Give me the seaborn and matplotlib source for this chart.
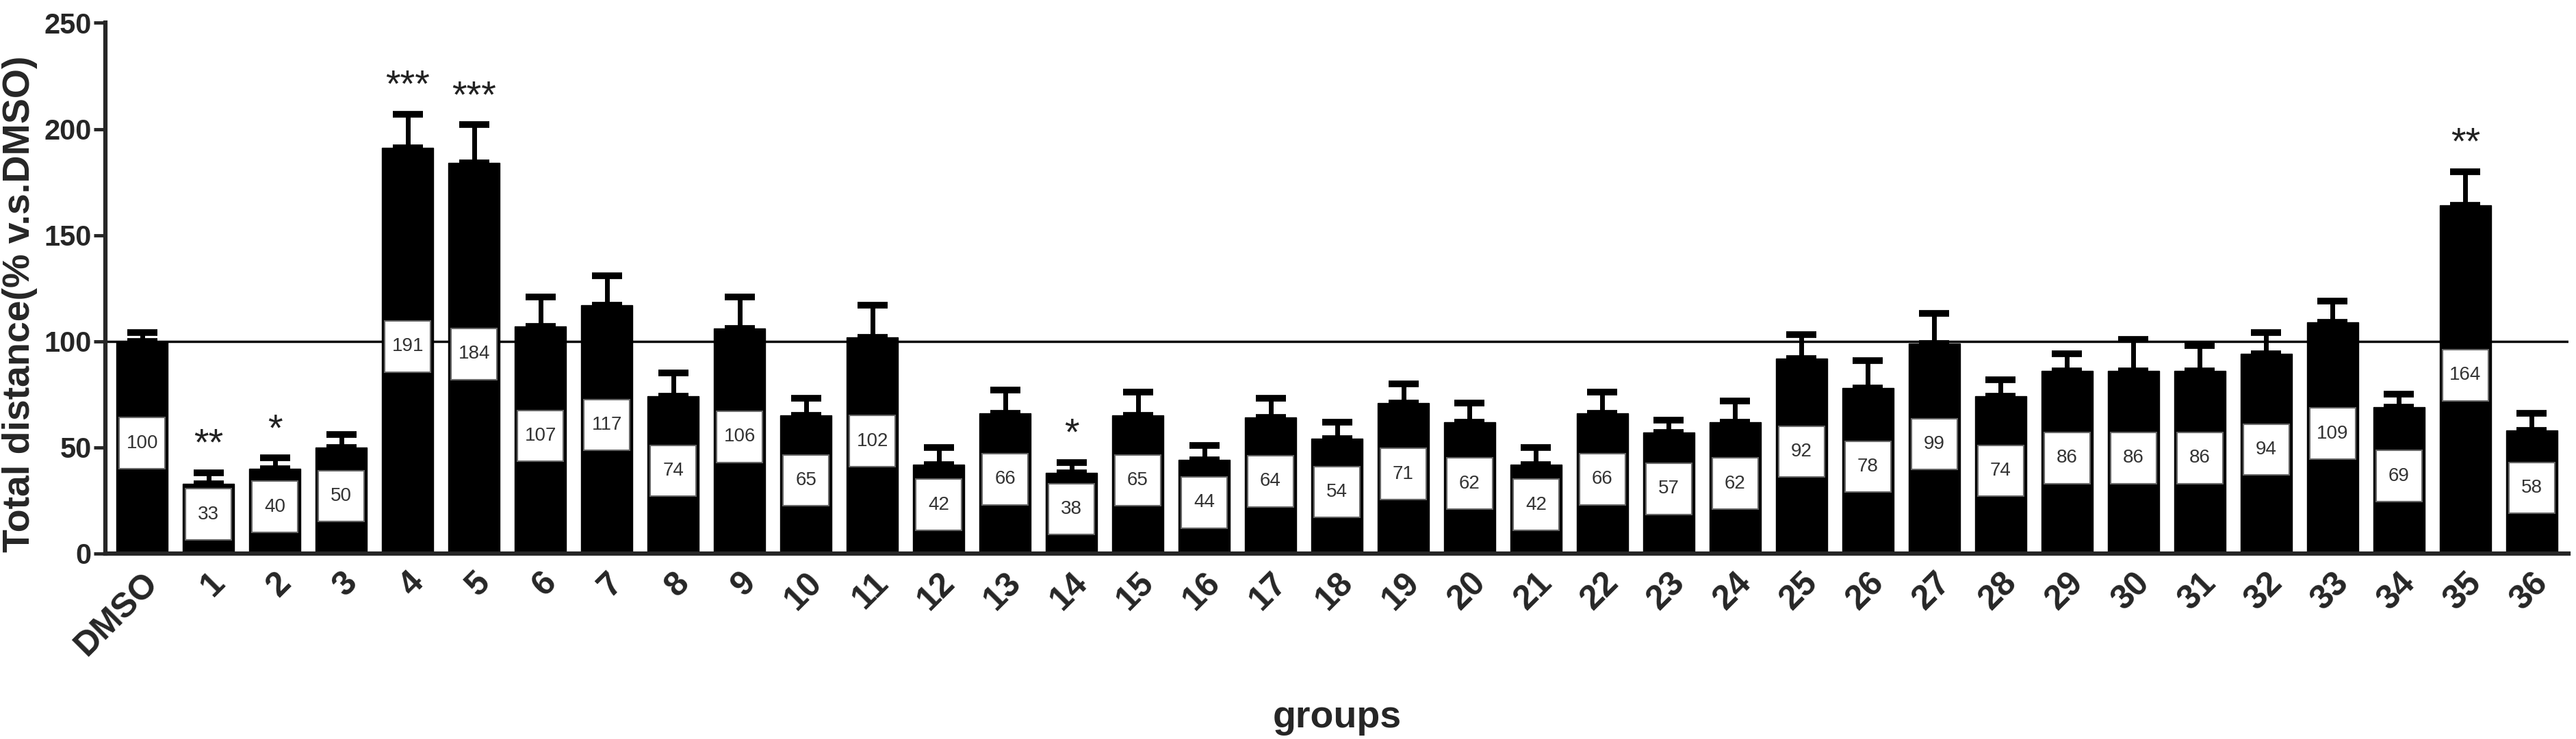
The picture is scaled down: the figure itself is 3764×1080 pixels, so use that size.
import numpy as np
import pandas as pd
import seaborn as sns
import matplotlib.pyplot as plt
from matplotlib.patches import Rectangle

groups = ["DMSO"] + [str(i) for i in range(1, 37)]
values = [100, 33, 40, 50, 191, 184, 107, 117, 74, 106, 65, 102, 42, 66, 38, 65, 44, 64, 54,
          71, 62, 42, 66, 57, 62, 92, 78, 99, 74, 86, 86, 86, 94, 109, 69, 164, 58]
errors = [4, 5, 5, 6, 16, 18, 14, 14, 11, 15, 8, 15, 8, 11, 5, 11, 7, 9, 8,
          9, 9, 8, 10, 6, 10, 11, 13, 14, 8, 8, 15, 12, 10, 10, 6, 16, 8]
stars = {"1": "**", "2": "*", "4": "***", "5": "***", "14": "*", "35": "**"}

df = pd.DataFrame({"group": groups, "distance": values, "sem": errors})

sns.set_style("ticks")
plt.rcParams["font.family"] = ["Liberation Sans", "DejaVu Sans"]

fig, ax = plt.subplots(figsize=(37.64, 10.8), dpi=100)
fig.subplots_adjust(left=0.041, right=0.997, bottom=0.251, top=0.969)

bar_w = 0.78
sns.barplot(data=df, x="group", y="distance", color="black", saturation=1,
            width=bar_w, errorbar=None, ax=ax)
for p in ax.patches:
    p.set_edgecolor("black")

xs = np.arange(len(df))
ax.errorbar(xs, df["distance"], yerr=[np.zeros(len(df)), df["sem"]], fmt="none",
            ecolor="black", elinewidth=5, capsize=16, capthick=7, zorder=1)

ax.axhline(100, color="black", lw=2.5, zorder=1.5)

# value boxes inside bars
box_w = bar_w * 0.88
box_h = 24
for x, v in zip(xs, df["distance"]):
    yc = v / 2 + 2
    ax.add_patch(Rectangle((x - box_w / 2, yc - box_h / 2), box_w, box_h,
                           facecolor="white", edgecolor="#666666", lw=1.5, zorder=3))
    ax.text(x, yc, str(v), ha="center", va="center", fontsize=20, color="#333333", zorder=4)

# significance marks
for x, g, v, e in zip(xs, df["group"], df["distance"], df["sem"]):
    if g in stars:
        ax.text(x, v + e + 13, stars[g], ha="center", va="center", fontsize=40, color="#222222")

ax.set_ylim(0, 250)
ax.set_xlim(-0.55, len(df) - 0.45)
ax.set_yticks([0, 50, 100, 150, 200, 250])
sns.despine(ax=ax)
for s in ["left", "bottom"]:
    ax.spines[s].set_linewidth(4.5)
ax.tick_params(axis="y", length=12, width=3.5, labelsize=30, pad=3)
ax.tick_params(axis="x", length=0, labelsize=36, pad=14)
for lab in ax.get_yticklabels() + ax.get_xticklabels():
    lab.set_fontweight("bold")
plt.setp(ax.get_xticklabels(), rotation=45, ha="right", rotation_mode="anchor")

ax.set_ylabel("Total distance(% v.s.DMSO)", fontsize=40, fontweight="bold")
ax.yaxis.set_label_coords(-0.0275, 0.47)
ax.set_xlabel("groups", fontsize=40, fontweight="bold")
ax.xaxis.set_label_coords(0.5, -0.31)
ax.xaxis.label.set_va("center")

fig.savefig("out.png", dpi=100)
